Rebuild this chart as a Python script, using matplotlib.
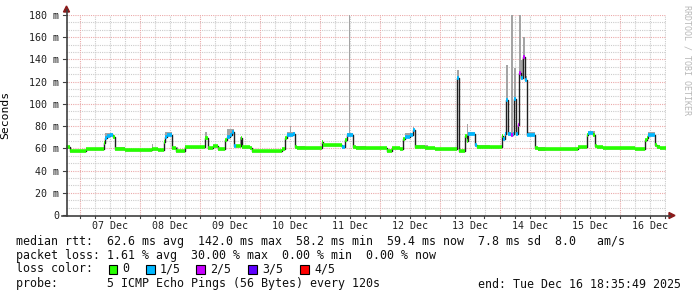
import numpy as np
import matplotlib
matplotlib.use("Agg")
import matplotlib.pyplot as plt
from matplotlib.lines import Line2D
from matplotlib.patches import Rectangle, Polygon

W, H = 697, 297
MONO = "DejaVu Sans Mono"

# median rtt as steps: hours since 07 Dec 00:00, value in ms, loss level (0..4)
med_h = [-5.4, -3.72, 2.68, 9.88, 10.28, 11.08, 12.28, 13.48, 14.28, 18.28,
         29.08, 31.48, 33.88, 34.28, 35.08, 37.08, 38.68, 42.28, 50.28, 51.48,
         53.48, 55.48, 58.28, 59.08, 60.28, 61.08, 61.88, 62.68, 64.68, 65.08,
         68.28, 69.08, 81.08, 82.28, 83.08, 85.48, 86.28, 87.08, 97.08, 97.48,
         105.08, 106.28, 107.08, 109.48, 110.68, 123.08, 125.08, 128.28, 129.48, 130.28,
         132.28, 133.48, 134.28, 135.08, 138.28, 142.28, 151.08, 151.88, 154.28, 155.08,
         155.48, 158.28, 159.08, 169.08, 169.48, 170.28, 170.68, 171.48, 172.68, 173.48,
         173.88, 174.68, 175.48, 175.88, 176.68, 177.48, 178.28, 179.08, 182.28, 183.48,
         199.48, 203.08, 203.48, 205.48, 206.28, 207.08, 209.28, 222.28, 226.28, 227.08,
         227.48, 230.28, 231.08, 232.28]
med_v = [61.5, 58, 59, 65, 69, 71, 72, 70, 59.5, 58.5,
         59, 58.5, 66, 70, 72, 60, 58, 61.5, 69, 60,
         62, 59, 67.5, 70.5, 72, 75, 62.5, 62, 69, 61.5,
         60, 58, 59, 69, 72, 73, 61.5, 60, 66, 63,
         61, 67.5, 72, 61.5, 60, 58, 60, 59, 68, 70.5,
         72, 76.5, 61.5, 61, 60, 59, 123, 58, 71, 67,
         73, 63, 61, 71, 68, 73, 103.5, 73, 72, 73,
         104, 73, 81, 127.5, 123, 142.5, 121.5, 72, 60, 59,
         61, 72, 73.5, 72, 62, 61.5, 60, 59, 67.5, 69,
         72, 63, 61.5, 60]
med_loss = [0, 0, 0, 0, 1, 1, 1, 0, 0, 0,
            0, 0, 0, 1, 1, 0, 0, 0, 0, 0,
            0, 0, 0, 1, 1, 1, 1, 0, 0, 0,
            0, 0, 0, 0, 1, 1, 0, 0, 0, 0,
            1, 0, 1, 0, 0, 0, 0, 0, 0, 1,
            1, 1, 0, 0, 0, 0, 1, 0, 0, 0,
            1, 1, 0, 0, 1, 1, 1, 1, 2, 1,
            1, 1, 2, 2, 1, 2, 1, 1, 0, 0,
            0, 0, 1, 0, 0, 0, 0, 0, 0, 0,
            1, 0, 0, 0]
end_h = 234.6

# smoke (ping spread): start hour, end hour, top value in ms
smoke_h0 = [10.3, 14.3, 28.9, 34.3, 37.1, 50.1, 59.1, 64.3, 83.1, 84.3,
            86.3, 97.0, 107.1, 107.7, 110.3, 130.3, 133.4, 134.3, 151.0, 155.5,
            155.0, 158.3, 170.3, 170.6, 172.6, 173.8, 175.8, 176.7, 177.5, 178.3,
            182.3, 203.5, 206.3, 227.5, 230.3]
smoke_h1 = [13.5, 18.3, 29.3, 37.1, 39.5, 50.9, 61.9, 65.1, 86.3, 84.7,
            90.3, 97.4, 109.5, 108.1, 114.7, 134.3, 133.8, 139.5, 151.9, 158.3,
            155.4, 164.3, 182.3, 171.5, 173.5, 174.7, 176.7, 177.5, 178.3, 179.1,
            186.3, 206.3, 209.3, 230.3, 232.3]
smoke_top = [74, 61.5, 64, 74.5, 61, 75, 77, 70, 75, 80.5,
             62, 67, 74, 180, 62, 74, 79, 63, 130.5, 75,
             82, 63, 75, 135, 180, 132, 180, 139.5, 160, 125,
             61, 76, 62, 74.5, 63]

loss_colors = ["#26ff00", "#00b8ff", "#c800ff", "#5e00ff", "#ff0000"]
loss_labels = ["0", "1/5", "2/5", "3/5", "4/5"]

y_ticks = list(range(0, 181, 20))
day_labels = ["07 Dec", "08 Dec", "09 Dec", "10 Dec", "11 Dec",
              "12 Dec", "13 Dec", "14 Dec", "15 Dec", "16 Dec"]

fig = plt.figure(figsize=(W / 100, H / 100), dpi=100)
fig.patch.set_facecolor("white")
ax = fig.add_axes([66 / W, 82 / H, 600 / W, 200 / H])
ax.set_xlim(end_h - 240, end_h)
ax.set_ylim(0, 180)
for s in ax.spines.values():
    s.set_visible(False)

# grid
dot = (0, (1, 1))
for h in np.arange(-6, end_h, 6):
    if h % 24 != 0:
        ax.axvline(h, color="#cccccc", lw=0.8, ls=dot, zorder=0)
for v in np.arange(0, 181, 20 / 3):
    if round(v) % 20 != 0:
        ax.axhline(v, color="#cccccc", lw=0.8, ls=dot, zorder=0)
for h in range(0, 240, 24):
    ax.axvline(h, color="#ebaaaa", lw=0.8, ls=dot, zorder=0.5)
for v in y_ticks[1:]:
    ax.axhline(v, color="#ebaaaa", lw=0.8, ls=dot, zorder=0.5)

# smoke, drawn above the median of every step it covers
ends = med_h[1:] + [end_h]
for h0, h1, top in zip(smoke_h0, smoke_h1, smoke_top):
    for s0, s1, v in zip(med_h, ends, med_v):
        a, b = max(h0, s0), min(h1, s1)
        if b > a and top > v:
            ax.add_patch(Rectangle((a, v - 1), b - a, top - v + 1,
                                   facecolor="#a4a4a4", edgecolor="none", zorder=1))

# median line
ax.step(med_h + [end_h], med_v + [med_v[-1]], where="post",
        color="#202020", lw=1.0, zorder=2)
for h0, h1, v, l in zip(med_h, ends, med_v, med_loss):
    ax.hlines(v, h0, h1, color=loss_colors[l], lw=2.6, zorder=3)

# ticks / labels
ax.set_yticks(y_ticks)
ax.set_yticklabels(["0"] + [f"{v} m" for v in y_ticks[1:]],
                   family=MONO, fontsize=7.2)
ax.set_xticks([12 + 24 * i for i in range(len(day_labels))])
ax.set_xticklabels(day_labels, family=MONO, fontsize=7.2)
ax.tick_params(axis="y", length=0, pad=5, colors="#202020")
ax.tick_params(axis="x", length=0, pad=4.5, colors="#202020")
ax.set_ylabel("Seconds", family=MONO, fontsize=8.2)
ax.yaxis.set_label_coords(-56 / 600, 0.5)

# axes with arrows (pixel coords)
def px(x, y):
    return x / W, 1 - y / H

ax_col = "#404040"
fig.add_artist(Line2D(*zip(px(66.5, 216), px(66.5, 10)), color=ax_col, lw=1.2))
fig.add_artist(Line2D(*zip(px(62, 215.5), px(670, 215.5)), color=ax_col, lw=1.2))
fig.add_artist(Polygon([px(63.5, 12), px(69.5, 12), px(66.5, 6)],
                       closed=True, color="#8b1a1a"))
fig.add_artist(Polygon([px(669, 212.5), px(669, 218.5), px(675, 215.5)],
                       closed=True, color="#8b1a1a"))
for h in range(0, 240, 6):
    xx = 66 + (h - (end_h - 240)) * 2.5
    fig.add_artist(Line2D(*zip(px(xx, 215.5), px(xx, 218)), color=ax_col, lw=0.8))
for v in y_ticks:
    yy = 215 - v * 200 / 180
    fig.add_artist(Line2D(*zip(px(63, yy), px(66.5, yy)), color=ax_col, lw=0.8))

fig.text(*px(687, 5), "RRDTOOL / TOBI OETIKER", rotation=270, family=MONO,
         fontsize=6, color="#b8b8b8", ha="center", va="top")

# legend text
tk = dict(family=MONO, fontsize=8.4, color="#101010", va="center", ha="left")
fig.text(*px(16, 241), "median rtt:  62.6 ms avg  142.0 ms max  58.2 ms min  "
         "59.4 ms now  7.8 ms sd  8.0   am/s", **tk)
fig.text(*px(16, 255), "packet loss: 1.61 % avg  30.00 % max  0.00 % min  0.00 % now", **tk)
fig.text(*px(16, 269), "loss color:", **tk)
box_x = [108.5, 146, 196, 248, 300]
for bx, c, lab in zip(box_x, loss_colors, loss_labels):
    fig.add_artist(Rectangle(px(bx, 274), 8.5 / W, 9 / H, facecolor=c,
                             edgecolor="black", lw=0.8))
    fig.text(*px(bx + 14, 269), lab, **tk)
fig.text(*px(16, 284), "probe:       5 ICMP Echo Pings (56 Bytes) every 120s", **tk)
fig.text(*px(681, 284), "end: Tue Dec 16 18:35:49 2025",
         **{**tk, "ha": "right"})

fig.savefig("out.png", dpi=100)
